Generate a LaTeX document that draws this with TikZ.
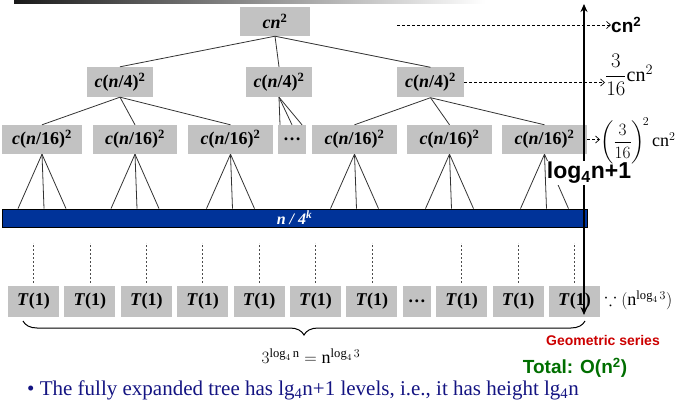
\documentclass[tikz,border=0pt]{standalone}
\usepackage{amsmath,amssymb}
\usepackage{fontspec}
\setmainfont{Liberation Serif}
\setsansfont{Liberation Sans}
\usetikzlibrary{arrows.meta,positioning,decorations.pathreplacing}

\definecolor{boxgray}{RGB}{194,194,194}
\definecolor{barblue}{RGB}{0,51,153}
\definecolor{notenavy}{RGB}{20,20,130}
\definecolor{geored}{RGB}{204,0,0}
\definecolor{totgreen}{RGB}{0,110,0}

\begin{document}
\begin{tikzpicture}[x=1pt, y=-1pt,
    node distance=0pt and 5pt,
    box/.style={rectangle, fill=boxgray, minimum height=29pt, inner sep=2pt,
                font=\fontsize{18}{20}\selectfont\bfseries},
    tbox/.style={box, minimum width=51pt, minimum height=31pt},
    treeline/.style={draw=black!80, line width=0.8pt},
    leafline/.style={draw=black!70, dash pattern=on 2pt off 2pt, line width=0.6pt},
    levelarrow/.style={-{Straight Barb[length=4pt,width=7pt]}, dash pattern=on 3pt off 2pt, line width=0.7pt},
    side/.style={anchor=west, inner sep=0pt, font=\fontsize{20}{22}\selectfont}
  ]
    \useasboundingbox (0,0) rectangle (680,406);
    \shade[left color=black!90, right color=white] (14,1) rectangle (485,4);

    % recursion tree
    \node[box, minimum width=70pt] (root) at (275,21.5) {\textit{cn}\textsuperscript{2}};
    \node[box, minimum width=66pt, minimum height=30pt] (l1a) at (120,82) {\textit{c}(\textit{n}/4)\textsuperscript{2}};
    \node[box, minimum width=66pt, minimum height=30pt] (l1b) at (279,82) {\textit{c}(\textit{n}/4)\textsuperscript{2}};
    \node[box, minimum width=67pt, minimum height=30pt] (l1c) at (430.5,82.5) {\textit{c}(\textit{n}/4)\textsuperscript{2}};

    \node[box, minimum width=80pt] (l2a) at (42,139.5) {\textit{c}(\textit{n}/16)\textsuperscript{2}};
    \node[box, minimum width=84pt] (l2b) at (135,139.5) {\textit{c}(\textit{n}/16)\textsuperscript{2}};
    \node[box, minimum width=85pt] (l2c) at (230.5,139.5) {\textit{c}(\textit{n}/16)\textsuperscript{2}};
    \node[box, minimum width=28pt] (dots) at (292,139.5) {\dots};
    \node[box, minimum width=85pt] (l2e) at (354.5,139.5) {\textit{c}(\textit{n}/16)\textsuperscript{2}};
    \node[box, minimum width=85pt] (l2f) at (449.5,139.5) {\textit{c}(\textit{n}/16)\textsuperscript{2}};
    \node[box, minimum width=85pt] (l2g) at (544.5,139.5) {\textit{c}(\textit{n}/16)\textsuperscript{2}};

    \foreach \a/\b in {root/l1a, root/l1b, root/l1c, l1a/l2a, l1a/l2b, l1a/l2c, l1c/l2e, l1c/l2f, l1c/l2g}
      \draw[treeline] (\a.south) -- (\b.north);
    \foreach \s in {-12pt, 0pt, 10pt}
      \draw[treeline] (l1b.south) -- ([xshift=\s]dots.north);

    \node[draw=black, line width=0.8pt, fill=barblue, minimum width=585pt, minimum height=18pt,
          inner sep=0pt, text=white, font=\fontsize{16}{18}\selectfont\bfseries\itshape] (bar) at (294.5,218) {n / 4\textsuperscript{k}};

    \foreach \b in {l2a, l2b, l2c, l2e, l2f, l2g}
      \foreach \s in {-24pt, 2pt, 24pt}
        \draw[treeline] (\b.south) -- ([xshift=\s]\b.south |- bar.north);

    % leaves
    \node[tbox] (t1) at (33.5,301.5) {\textit{T}(1)};
    \foreach \p/\n in {t1/t2, t2/t3, t3/t4, t4/t5, t5/t6, t6/t7}
      \node[tbox, right=of \p] (\n) {\textit{T}(1)};
    \node[tbox, minimum width=28pt, right=of t7] (tdots) {\dots};
    \foreach \p/\n in {tdots/t8, t8/t9, t9/t10}
      \node[tbox, right=of \p] (\n) {\textit{T}(1)};
    \foreach \i in {1,...,10}
      \draw[leafline] ([yshift=3pt]t\i.north) -- ([yshift=43pt]t\i.north);

    \coordinate (bl) at (23,321);
    \coordinate (br) at (585,321);
    \draw[decorate, decoration={brace, mirror, amplitude=14pt}, line width=1pt] (bl) -- (br);
    \node[font=\fontsize{18}{20}\selectfont] (leafsum) at (311,356) {$3^{\log_4 \mathrm{n}} = \mathrm{n}^{\log_4 3}$};
    \node[anchor=west, font=\fontsize{18}{20}\selectfont] (leafcount) at (601,300) {$\because(\mathrm{n}^{\log_4 3})$};

    % height and level costs
    \coordinate (htop) at (584,4);
    \coordinate (hbot) at (584,315);
    \draw[{Stealth[length=8pt,width=7pt]}-{Stealth[length=8pt,width=7pt]}, line width=2pt] (hbot) -- (htop);
    \node[fill=white, inner sep=1pt, font=\fontsize{23}{25}\selectfont\sffamily\bfseries] (height) at (589,173) {log\textsubscript{4}n+1};

    \coordinate (cnfrom) at (397,25);
    \node[side, font=\fontsize{19}{21}\selectfont\sffamily\bfseries] (cnlab) at (611,25) {cn\textsuperscript{2}};
    \node[side] (lab1) at (605,75) {$\dfrac{3}{16}\mathrm{cn}^2$};
    \node[side, font=\fontsize{18}{20}\selectfont] (lab2) at (600,141) {$\left(\dfrac{3}{16}\right)^{\!2}\mathrm{cn}^2$};
    \draw[levelarrow] (cnfrom) -- (cnlab.west);
    \draw[levelarrow] (l1c.east) -- (lab1.west |- l1c.east);
    \draw[levelarrow] (l2g.east) -- (lab2.west |- l2g.east);

    \node[text=geored, font=\fontsize{14}{16}\selectfont\sffamily\bfseries] (geo) at (603,340) {Geometric series};
    \node[text=totgreen, font=\fontsize{19}{21}\selectfont\sffamily\bfseries] (total) at (575,368) {Total: O(n\textsuperscript{2})};
    \node[anchor=west, inner sep=0pt, text=notenavy, font=\fontsize{21}{23}\selectfont] (note) at (27,390)
      {\textbullet\ The fully expanded tree has lg\textsubscript{4}n+1 levels, i.e., it has height lg\textsubscript{4}n};
\end{tikzpicture}
\end{document}
